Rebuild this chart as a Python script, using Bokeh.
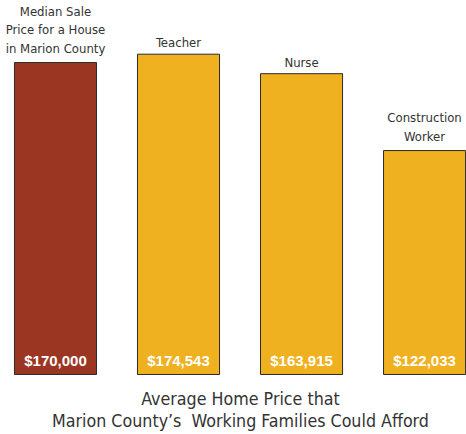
from bokeh.plotting import figure
from bokeh.models import Range1d, Label, ColumnDataSource
from bokeh.core.properties import value
from bokeh.embed import file_html
from bokeh.resources import INLINE

categories = ["Median Sale\nPrice for a House\nin Marion County", "Teacher", "Nurse", "Construction\nWorker"]
prices = [170000, 174543, 163915, 122033]
price_labels = ["$170,000", "$174,543", "$163,915", "$122,033"]
colors = ["#9B3622", "#EFB11F", "#EFB11F", "#EFB11F"]
title_lines = ["Average Home Price that", "Marion County\u2019s\u00a0 Working Families Could Afford"]

W, H = 466, 434
FONT = "'DejaVu Sans Condensed', 'Liberation Sans Narrow', 'Open Sans', sans-serif"
xs = list(range(len(categories)))
label_offsets = [-7 if "\n" in c else -4 for c in categories]
src = ColumnDataSource(dict(x=xs, top=prices, cat=categories, lab=price_labels,
                            color=colors, yoff=label_offsets))

p = figure(width=W, height=H, output_backend="svg", toolbar_location=None,
           x_range=Range1d(-0.447, 3.341), y_range=Range1d(-32700, 203800),
           min_border=0, outline_line_color=None)
p.axis.visible = False
p.grid.visible = False
p.background_fill_color = "white"

p.vbar(x="x", top="top", bottom=0, width=0.667, fill_color="color",
       line_color="#2b2b2b", line_width=1, source=src)

p.text(x="x", y="top", text="cat", source=src, text_align="center", text_baseline="bottom",
       y_offset="yoff", text_font=value(FONT), text_font_size="13px",
       text_color="#333333", text_line_height=1.22)

p.text(x="x", y=0, text="lab", source=src, text_align="center", text_baseline="middle",
       y_offset=-14, text_font=value("Liberation Sans"), text_font_style="bold",
       text_font_size="15px", text_color="white")

for t, yy in zip(title_lines, [36, 14]):
    p.add_layout(Label(x=240, y=yy, x_units="screen", y_units="screen", text=t,
                       text_align="center", text_baseline="middle",
                       text_font=FONT, text_font_size="17.7px",
                       text_color="#333333"))

open("out.html", "w").write(file_html(p, INLINE))
